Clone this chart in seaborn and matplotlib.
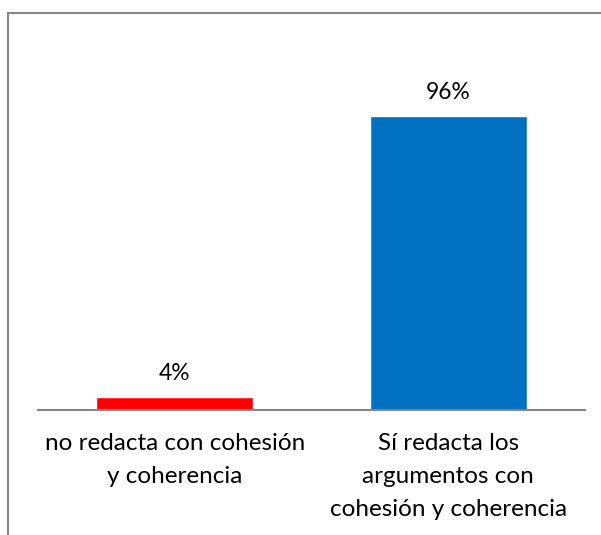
import matplotlib
matplotlib.use("Agg")
import matplotlib.pyplot as plt
import seaborn as sns
import pandas as pd
from matplotlib.lines import Line2D

categories = ["no redacta con cohesión\ny coherencia",
              "Sí redacta los\nargumentos con\ncohesión y coherencia"]
values = [0.04, 0.96]
labels = ["4%", "96%"]
colors = ["#FF0000", "#0070C0"]

df = pd.DataFrame({"cat": categories, "val": values})

sns.set_theme(style="white")
plt.rcParams['font.family'] = ['Lato', 'DejaVu Sans']

W, H = 601, 535
fig = plt.figure(figsize=(W / 100, H / 100), dpi=100)
# axes: x 38..585, zero line at y=409.5
left, right, bottom, top = 38, 585, 409.5, 42.7
ax = fig.add_axes([left / W, 1 - bottom / H, (right - left) / W, (bottom - top) / H])

sns.barplot(data=df, x="cat", y="val", hue="cat", palette=colors,
            width=0.574, legend=False, ax=ax, saturation=1)
ax.set_ylim(0, 1.2)
ax.set_xlim(-0.5, 1.5)

for i, (v, lab) in enumerate(zip(values, labels)):
    ax.annotate(lab, (i, v), xytext=(0, 17), textcoords="offset points",
                ha="center", va="center", fontsize=16.4, color="#000000")

for s in ["top", "right", "left"]:
    ax.spines[s].set_visible(False)
ax.spines["bottom"].set_color("#868686")
ax.spines["bottom"].set_linewidth(1.5)
ax.set_yticks([])
ax.set_xlabel("")
ax.set_ylabel("")
ax.tick_params(axis="x", length=0, pad=17, labelsize=17.5, colors="#000000")
for t in ax.get_xticklabels():
    t.set_linespacing(1.7)

# outer chart frame (only top and left visible in the crop)
fig.add_artist(Line2D([8 / W, 1.0], [1 - 13 / H, 1 - 13 / H], color="#868686", lw=1.5))
fig.add_artist(Line2D([8 / W, 8 / W], [0.0, 1 - 13 / H], color="#868686", lw=1.5))

fig.savefig("out.png", dpi=100)
